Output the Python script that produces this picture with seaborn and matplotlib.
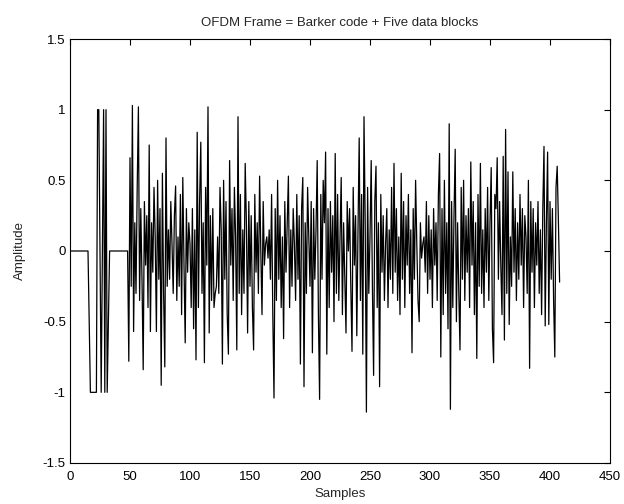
import numpy as np
import pandas as pd
import matplotlib
matplotlib.use("Agg")
import matplotlib.pyplot as plt
import seaborn as sns

# Preamble: leading zeros, Barker code section, guard zeros (samples 1..48)
preamble = [0, 0, 0, 0, 0, 0, 0, 0, 0, 0,
            0, 0, 0, 0, 0, -0.5, -1, -1, -1, -1,
            -1, -1, 1, 1, 0, -1, 0, 1, -1, 1,
            -1, -0.5, 0, 0, 0, 0, 0, 0, 0, 0,
            0, 0, 0, 0, 0, 0, 0, 0]

# Five OFDM data blocks (samples 49..408)
data_blocks = [
    -0.78, 0.66, -0.25, 1.03, -0.57, 0.20, -0.30, 0.45, 1.02, -0.35,
    0.30, -0.20, -0.84, 0.35, -0.10, 0.25, -0.40, 0.75, -0.57, 0.20,
    -0.15, 0.45, 0.10, -0.57, 0.50, -0.20, 0.30, -0.95, 0.55, -0.30,
    -0.82, 0.80, -0.25, 0.15, -0.20, 0.35, 0.05, -0.30, 0.25, 0.46,
    -0.35, 0.10, -0.25, 0.40, -0.45, 0.52, -0.10, -0.65, 0.30, -0.15,
    0.20, 0.05, -0.40, 0.30, -0.55, 0.15, -0.77, 0.84, -0.40, 0.35,
    0.77, -0.30, 0.20, -0.79, 0.45, -0.10, 1.02, -0.58, 0.25, -0.35,
    0.30, -0.40, -0.30, -0.25, 0.10, -0.30, 0.45, 0.15, -0.80, 0.50,
    -0.20, 0.35, -0.45, -0.73, 0.64, -0.10, 0.30, -0.35, 0.45, 0.10,
    -0.70, 0.95, -0.30, 0.40, -0.45, 0.15, -0.30, 0.62, 0.20, -0.58,
    0.35, -0.25, 0.25, -0.40, -0.70, 0.40, -0.15, 0.20, -0.30, 0.53,
    0.00, -0.45, 0.35, -0.10, 0.05, 0.10, -0.05, 0.15, -0.20, 0.40,
    -0.45, -1.04, 0.30, -0.35, 0.50, -0.20, 0.25, -0.40, 0.10, -0.62,
    0.35, -0.15, 0.20, 0.53, -0.40, 0.15, -0.25, 0.30, 0.05, -0.35,
    0.40, -0.20, 0.25, -0.80, 0.30, 0.52, -0.96, 0.20, -0.30, 0.45,
    0.10, -0.25, 0.35, -0.72, 0.30, -0.20, 0.15, 0.64, -0.45, -1.05,
    0.40, -0.20, 0.50, 0.20, 0.70, -0.73, 0.30, -0.40, 0.35, -0.15,
    0.25, -0.50, 0.69, -0.30, 0.40, -0.35, 0.10, 0.52, -0.45, 0.20,
    -0.20, -0.58, 0.35, 0.00, 0.30, -0.25, -0.71, 0.45, -0.10, 0.25,
    -0.60, 0.15, 0.80, -0.35, 0.40, -0.73, 0.95, 0.20, -1.14, 0.45,
    -0.30, 0.10, 0.64, -0.25, -0.88, 0.35, 0.60, -0.40, 0.20, -0.96,
    0.40, -0.15, 0.25, -0.35, 0.05, 0.30, -0.40, 0.15, -0.20, 0.45,
    -0.30, 0.62, -0.15, 0.30, -0.35, 0.10, -0.45, 0.55, -0.20, 0.35,
    -0.40, 0.25, -0.10, 0.40, -0.30, 0.15, -0.72, 0.30, -0.20, 0.50,
    0.05, -0.35, -0.50, 0.20, -0.05, 0.05, 0.10, -0.15, 0.35, -0.30,
    0.25, -0.20, 0.15, -0.40, 0.30, -0.10, 0.20, -0.35, 0.40, 0.69,
    -0.75, 0.30, -0.45, 0.50, -0.30, 0.20, -0.55, 0.90, -1.12, 0.35,
    -0.40, 0.25, 0.72, -0.50, 0.20, -0.30, -0.70, 0.45, -0.20, 0.50,
    -0.35, 0.25, -0.15, 0.30, -0.40, 0.63, -0.10, 0.35, -0.45, 0.20,
    -0.76, 0.40, -0.25, 0.62, -0.30, 0.15, -0.40, 0.30, -0.15, 0.45,
    -0.35, 0.20, 0.59, -0.55, -0.79, 0.40, 0.30, 0.66, -0.20, 0.35,
    -0.10, -0.45, 0.67, -0.63, 0.86, -0.30, 0.56, -0.52, 0.10, -0.25,
    0.56, -0.15, 0.30, -0.35, 0.20, -0.20, 0.40, -0.10, 0.30, -0.40,
    0.25, 0.10, -0.30, 0.50, -0.83, 0.35, -0.15, 0.30, -0.40, 0.20,
    -0.10, 0.35, -0.30, 0.15, -0.45, 0.30, 0.74, -0.53, 0.20, 0.70,
    -0.52, 0.35, -0.20, 0.30, -0.35, -0.75, 0.45, 0.60, 0.21, -0.22,
]

x_ticks = [0, 50, 100, 150, 200, 250, 300, 350, 400, 450]
y_ticks = [-1.5, -1.0, -0.5, 0.0, 0.5, 1.0, 1.5]
y_tick_labels = ["-1.5", "-1", "-0.5", "0", "0.5", "1", "1.5"]

amplitude = preamble + data_blocks
samples = np.arange(1, len(amplitude) + 1)
df = pd.DataFrame({"Samples": samples, "Amplitude": amplitude})

sns.set_theme(style="white")
plt.rcParams["font.family"] = ["Liberation Sans", "DejaVu Sans"]

fig = plt.figure(figsize=(6.24, 5.04), dpi=100)
ax = fig.add_axes([70 / 624, 1 - 463 / 504, 540 / 624, 424 / 504])

sns.lineplot(data=df, x="Samples", y="Amplitude", color="black",
             linewidth=0.9, estimator=None, ax=ax)

ax.set_xlim(0, 450)
ax.set_ylim(-1.5, 1.5)
ax.set_xticks(x_ticks)
ax.set_xticklabels([str(t) for t in x_ticks])
ax.set_yticks(y_ticks)
ax.set_yticklabels(y_tick_labels)
ax.tick_params(direction="in", length=4, width=0.8, top=True, right=True,
               labelsize=9.5, colors="black", pad=3)
ax.tick_params(axis="x", pad=6)
for sp in ax.spines.values():
    sp.set_visible(True)
    sp.set_color("black")
    sp.set_linewidth(0.8)

ax.set_xlabel("Samples", fontsize=9.5, labelpad=3)
ax.set_ylabel("Amplitude", fontsize=9.5, labelpad=12)
ax.set_title("OFDM Frame = Barker code + Five data blocks", fontsize=9.5, pad=9)

fig.savefig("out.png", dpi=100, facecolor="white")
